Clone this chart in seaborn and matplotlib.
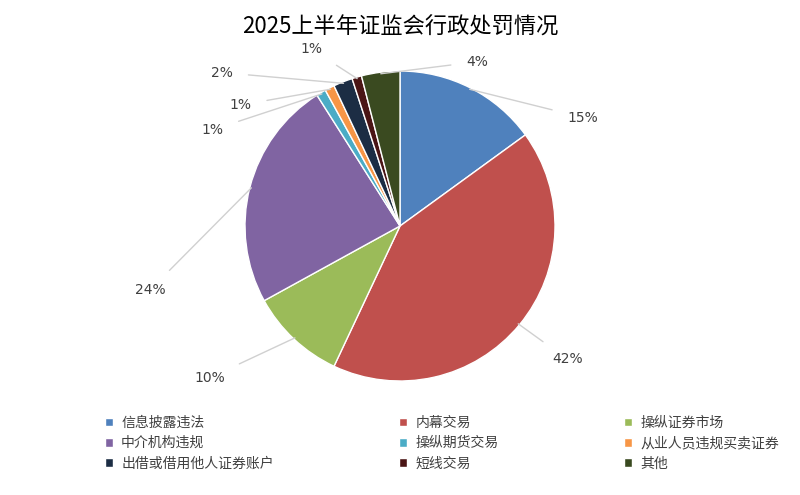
import numpy as np
import matplotlib
matplotlib.use("Agg")
import matplotlib.pyplot as plt
import seaborn as sns

categories = ["信息披露违法", "内幕交易", "操纵证券市场", "中介机构违规", "操纵期货交易",
              "从业人员违规买卖证券", "出借或借用他人证券账户", "短线交易", "其他"]
values = [15, 42, 10, 24, 1, 1, 2, 1, 4]
colors = ["#4F81BD", "#C0504D", "#9BBB59", "#8064A2", "#4BACC6",
          "#F79646", "#1C2D44", "#4A1515", "#3A4A20"]

sns.set_theme(style="white")
plt.rcParams["font.family"] = ["Noto Sans CJK SC", "DejaVu Sans"]

fig = plt.figure(figsize=(8, 4.95), dpi=100)
ax = fig.add_axes([(400 - 155) / 800, (269 - 155) / 495, 310 / 800, 310 / 495])
wedges, _ = ax.pie(values, colors=colors, startangle=90, counterclock=False,
                   wedgeprops=dict(edgecolor="white", linewidth=1))
ax.set_xlim(-1, 1); ax.set_ylim(-1, 1); ax.set_aspect("equal")
ax.axis("off")

# label text positions (layout, in radius units)
label_pos = [(1.18, 0.70), (1.08, -0.86), (-1.23, -0.98), (-1.61, -0.41),
             (-1.21, 0.62), (-1.03, 0.78), (-1.15, 0.99), (-0.57, 1.14), (0.50, 1.06)]
total = sum(values)
for w, v, (x1, y1) in zip(wedges, values, label_pos):
    ang = np.deg2rad((w.theta1 + w.theta2) / 2)
    x0, y0 = np.cos(ang) * 0.99, np.sin(ang) * 0.99
    ax.annotate(f"{round(v / total * 100)}%", xy=(x0, y0), xytext=(x1, y1),
                ha="center", va="center", fontsize=10, color="#404040",
                fontfamily="DejaVu Sans",
                arrowprops=dict(arrowstyle="-", color="#D0D0D0", lw=1,
                                shrinkA=9, shrinkB=0),
                annotation_clip=False)

fig.text(0.5, 0.945, "2025上半年证监会行政处罚情况", ha="center", va="center",
         fontsize=16, color="#000000")

# legend filled row-major like the reference
order = [0, 3, 6, 1, 4, 7, 2, 5, 8]
leg = fig.legend([wedges[i] for i in order], [categories[i] for i in order],
                 loc="upper left", bbox_to_anchor=(0.115, 0.185),
                 ncol=3, frameon=False, fontsize=10, handlelength=0.6, handleheight=0.6,
                 columnspacing=9.0, labelspacing=0.45, handletextpad=0.6)
for t in leg.get_texts():
    t.set_color("#404040")

fig.savefig("out.png", dpi=100)
